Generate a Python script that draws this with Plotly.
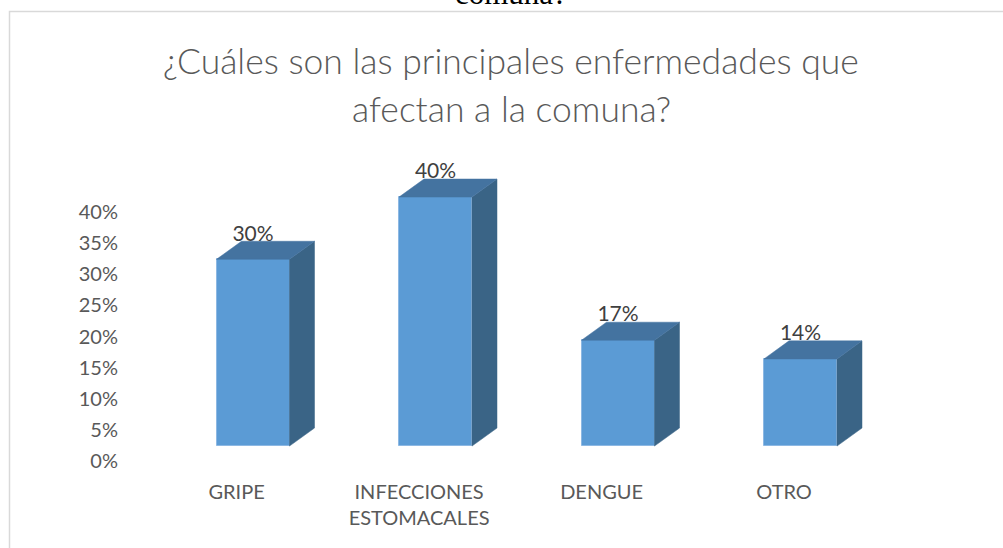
import plotly.graph_objects as go

# ---- data ----
categories = ["GRIPE", "INFECCIONES<br>ESTOMACALES", "DENGUE", "OTRO"]
values = [0.30, 0.40, 0.17, 0.14]
value_labels = ["30%", "40%", "17%", "14%"]
y_ticks = [0, 0.05, 0.10, 0.15, 0.20, 0.25, 0.30, 0.35, 0.40]
title_lines = ["¿Cuáles son las principales enfermedades que", "afectan a la comuna?"]
caption_above = "comuna?"

# ---- style / geometry ----
FRONT = "#5B9BD5"
SIDE = "#3A6486"
TOP = "#4473A0"
TEXT = "#595959"
FONT = "Lato"
bar_w = 0.40
dx = 0.137      # depth offset in category units
dy = 0.029      # depth offset in value units
floor = 0.024   # base of front faces
label_gap = 0.0386

xs = list(range(len(categories)))

fig = go.Figure()

# side and top faces
for i, v in zip(xs, values):
    xl, xr = i - bar_w / 2, i + bar_w / 2
    b, t = floor, floor + v
    fig.add_trace(go.Scatter(
        x=[xr, xr + dx, xr + dx, xr, xr], y=[b, b + dy, t + dy, t, b],
        fill="toself", fillcolor=SIDE, mode="lines",
        line=dict(color=SIDE, width=0.5), hoverinfo="skip", showlegend=False))
    fig.add_trace(go.Scatter(
        x=[xl, xl + dx, xr + dx, xr, xl], y=[t, t + dy, t + dy, t, t],
        fill="toself", fillcolor=TOP, mode="lines",
        line=dict(color=TOP, width=0.5), hoverinfo="skip", showlegend=False))

# front faces
fig.add_trace(go.Bar(
    x=xs, y=values, base=floor, width=bar_w,
    marker=dict(color=FRONT, line=dict(color="#8DB8E3", width=1)),
    hoverinfo="skip", showlegend=False))

# data labels
fig.add_trace(go.Scatter(
    x=xs, y=[floor + v + label_gap for v in values], text=value_labels,
    mode="text", textposition="middle center",
    textfont=dict(family=FONT, size=21, color="#404040"),
    hoverinfo="skip", showlegend=False))

L, B = 119, 70
W, H = 1003, 548
xmin = -(253 - L) / 182.5
xmax = xmin + (W - L) / 182.5
fig.update_layout(
    width=W, height=H,
    margin=dict(l=L, r=0, t=0, b=B),
    paper_bgcolor="white", plot_bgcolor="white",
    xaxis=dict(range=[xmin, xmax], tickvals=[i - 0.09 for i in xs], ticktext=categories,
               showgrid=False, zeroline=False, showline=False, ticks="",
               tickfont=dict(family=FONT, size=20, color=TEXT)),
    yaxis=dict(range=[-0.0273, 0.7406], tickvals=y_ticks, tickformat=".0%",
               showgrid=False, zeroline=False, showline=False, ticks="",
               tickfont=dict(family=FONT, size=20, color=TEXT)),
    bargap=0,
)

pw, ph = W - L, H - B
def px(xp):
    return (xp - L) / pw
def py(yp):
    return 1 - yp / ph

# frame
fig.add_shape(type="rect", xref="paper", yref="paper",
              x0=px(9.5), x1=px(1010), y0=py(560), y1=py(11.5),
              line=dict(color="#D9D9D9", width=1.5), fillcolor="rgba(0,0,0,0)", layer="below")

# title lines
for line, yc in zip(title_lines, [61, 108]):
    fig.add_annotation(text=line, xref="paper", yref="paper", x=px(511), y=py(yc),
                       xanchor="center", yanchor="middle", showarrow=False,
                       font=dict(family=FONT, size=35.5, color=TEXT, weight=300))

# cut-off caption at the very top
fig.add_annotation(text=caption_above, xref="paper", yref="paper", x=px(511), y=py(-6),
                   xanchor="center", yanchor="middle", showarrow=False,
                   font=dict(family="Liberation Serif", size=31, color="black"))

fig.write_html("out.html", config={"displayModeBar": False},
               post_script="document.body.style.margin='0px';")
